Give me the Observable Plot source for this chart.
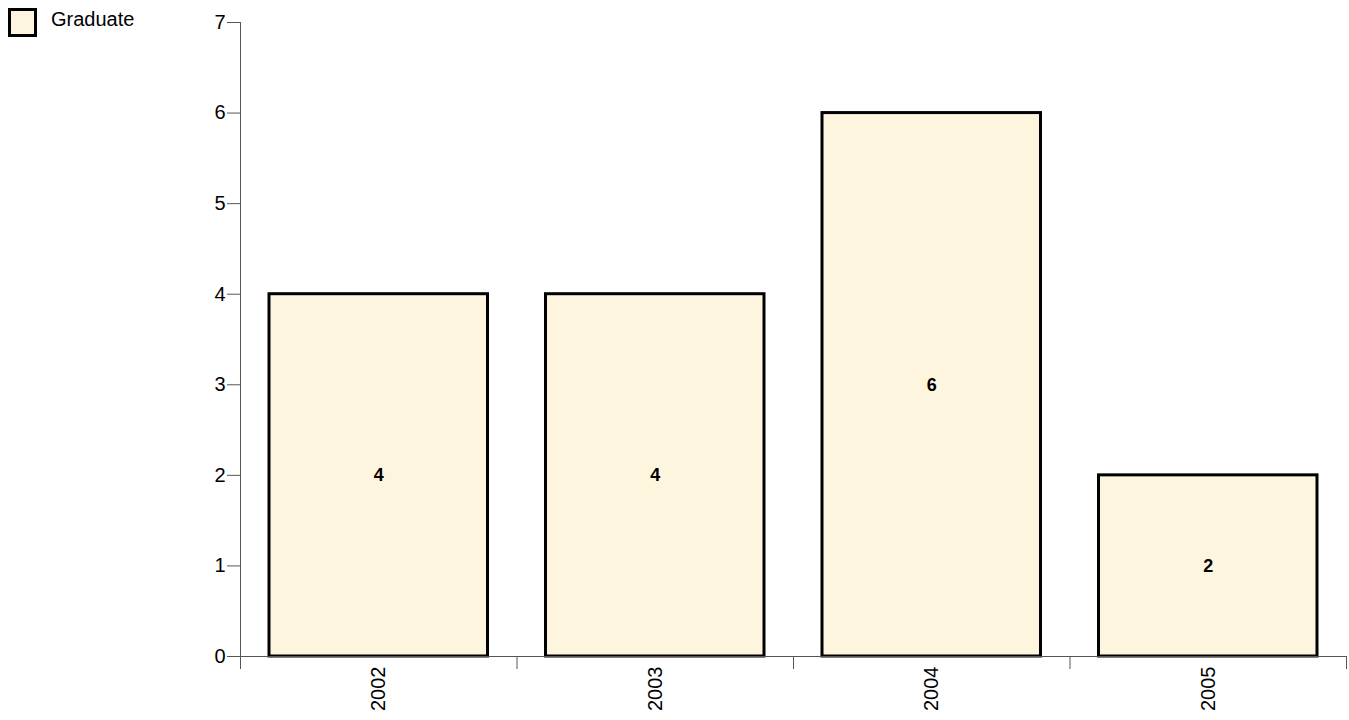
<!DOCTYPE html>
<html>
<head>
<meta charset="utf-8">
<script src="https://cdn.jsdelivr.net/npm/d3@7"></script>
<script src="https://cdn.jsdelivr.net/npm/@observablehq/plot@0.6"></script>
<style>
  html, body { margin: 0; padding: 0; background: #fff; overflow: hidden; }
  #wrap { position: relative; width: 1349px; height: 720px; }
  #legend { position: absolute; left: 8px; top: 8px; display: flex; align-items: flex-start;
            font-family: "Liberation Sans", Arial, sans-serif; font-size: 20px; line-height: 22px; color: #000; }
  #legend .sw { width: 23px; height: 23px; border: 3px solid #000; margin-right: 14px; box-sizing: content-box; }
  svg { display: block; }
</style>
</head>
<body>
<div id="wrap"><div id="legend"></div></div>
<script>
const seriesName = "Graduate";
const years = [2002, 2003, 2004, 2005];
const graduate = [4, 4, 6, 2];
const yTicks = [0, 1, 2, 3, 4, 5, 6, 7];
const barFill = "#fef5de";

const data = years.map((y, i) => ({ year: y, value: graduate[i] }));
const xMin = d3.min(years) - 0.5;
const xMax = d3.max(years) + 0.5;
const edges = d3.range(xMin, xMax + 0.01, 1);

const chart = Plot.plot({
  width: 1349,
  height: 720,
  marginLeft: 240,
  marginRight: 3,
  marginTop: 22,
  marginBottom: 64,
  style: { fontFamily: "'Liberation Sans', Arial, sans-serif", fontSize: "20px", color: "#000", background: "#fff" },
  x: { domain: [xMin, xMax], axis: null, label: null },
  y: { domain: [0, d3.max(yTicks)], axis: null, label: null },
  marks: [
    Plot.rectY(data, {
      x1: d => d.year - 0.5, x2: d => d.year + 0.5, y: "value",
      fill: barFill, stroke: "#000", strokeWidth: 3, insetLeft: 29, insetRight: 29
    }),
    Plot.text(data, {
      x: "year", y: d => d.value / 2, text: d => String(d.value),
      fontWeight: "bold", fontSize: 18, fill: "#000"
    }),
    Plot.ruleY([0], { stroke: "#555", strokeWidth: 1 }),
    Plot.ruleX([xMin], { y1: 0, y2: d3.max(yTicks), stroke: "#555", strokeWidth: 1 }),
    Plot.axisY({ ticks: yTicks, tickSize: 13, tickPadding: 2, stroke: "#555", fontSize: 20, tickFormat: "d", label: null }),
    Plot.axisX({ ticks: edges, tickSize: 13, tickFormat: () => "", stroke: "#555", label: null }),
    Plot.axisX({ ticks: years, tickSize: 0, tickRotate: -90, tickPadding: 10, tickFormat: "d", fontSize: 20, label: null })
  ]
});

const wrap = document.getElementById("wrap");
wrap.appendChild(chart);
const legend = document.getElementById("legend");
const sw = document.createElement("div");
sw.className = "sw";
sw.style.background = barFill;
legend.appendChild(sw);
const lab = document.createElement("span");
lab.textContent = seriesName;
legend.appendChild(lab);
wrap.appendChild(legend);
</script>
</body>
</html>
